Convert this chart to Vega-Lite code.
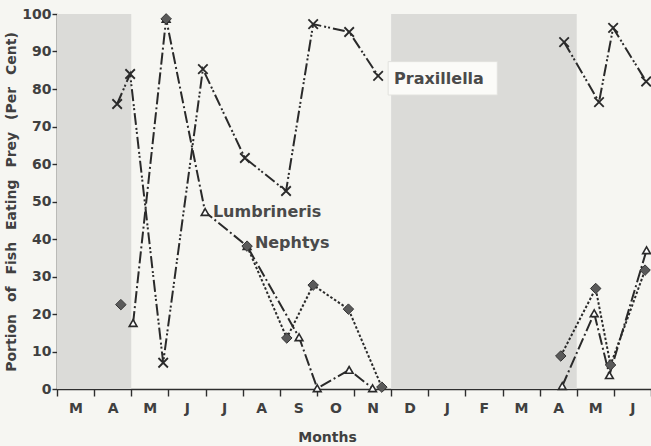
{
  "$schema": "https://vega.github.io/schema/vega-lite/v6.json",
  "width": 594,
  "height": 375,
  "autosize": "none",
  "padding": {"left": 57, "top": 14, "right": 0, "bottom": 57},
  "background": "#f6f6f2",
  "config": {
    "view": {"stroke": null},
    "font": "DejaVu Sans",
    "axis": {
      "domainColor": "#2e2e2e", "domainWidth": 1.6, "tickColor": "#2e2e2e", "tickWidth": 1.4,
      "labelColor": "#404040", "titleColor": "#404040", "labelFontSize": 14, "titleFontSize": 14,
      "labelFontWeight": "bold", "titleFontWeight": "bold",
      "labelFont": "DejaVu Sans", "titleFont": "DejaVu Sans", "grid": false
    }
  },
  "datasets": {
    "shade": [{"month": 0, "month_end": 2, "pct": 0, "pct_end": 100}, {"month": 9, "month_end": 14, "pct": 0, "pct_end": 100}],
    "box": [{"month": 8.92, "month_end": 11.86, "pct": 78.4, "pct_end": 87.3}],
    "obs": [
      {"series": "Praxillella", "seg": "P1", "month": 1.62, "pct": 76},
      {"series": "Praxillella", "seg": "P1", "month": 1.97, "pct": 84},
      {"series": "Praxillella", "seg": "P1", "month": 2.86, "pct": 7},
      {"series": "Praxillella", "seg": "P1", "month": 3.93, "pct": 85.3},
      {"series": "Praxillella", "seg": "P1", "month": 5.06, "pct": 61.6},
      {"series": "Praxillella", "seg": "P1", "month": 6.17, "pct": 52.8},
      {"series": "Praxillella", "seg": "P1", "month": 6.9, "pct": 97.3},
      {"series": "Praxillella", "seg": "P1", "month": 7.87, "pct": 95.2},
      {"series": "Praxillella", "seg": "P1", "month": 8.65, "pct": 83.5},
      {"series": "Praxillella", "seg": "P2", "month": 13.66, "pct": 92.5},
      {"series": "Praxillella", "seg": "P2", "month": 14.6, "pct": 76.5},
      {"series": "Praxillella", "seg": "P2", "month": 14.98, "pct": 96.3},
      {"series": "Praxillella", "seg": "P2", "month": 15.87, "pct": 82},
      {"series": "Lumbrineris", "seg": "L1", "month": 2.05, "pct": 17.6},
      {"series": "Lumbrineris", "seg": "L1", "month": 2.94, "pct": 98.7},
      {"series": "Lumbrineris", "seg": "L1", "month": 3.99, "pct": 47.2},
      {"series": "Lumbrineris", "seg": "L1", "month": 5.12, "pct": 38.1},
      {"series": "Lumbrineris", "seg": "L1", "month": 6.52, "pct": 13.8},
      {"series": "Lumbrineris", "seg": "L1", "month": 7.01, "pct": 0.2},
      {"series": "Lumbrineris", "seg": "L1", "month": 7.87, "pct": 5.1},
      {"series": "Lumbrineris", "seg": "L1", "month": 8.5, "pct": 0.2},
      {"series": "Lumbrineris", "seg": "L2", "month": 13.61, "pct": 0.8},
      {"series": "Lumbrineris", "seg": "L2", "month": 14.47, "pct": 20.2},
      {"series": "Lumbrineris", "seg": "L2", "month": 14.88, "pct": 3.7},
      {"series": "Lumbrineris", "seg": "L2", "month": 15.88, "pct": 37},
      {"series": "Nephtys", "seg": "N1", "month": 1.72, "pct": 22.5},
      {"series": "Nephtys", "seg": "N2", "month": 2.94, "pct": 98.7},
      {"series": "Nephtys", "seg": "N3", "month": 5.12, "pct": 38.1},
      {"series": "Nephtys", "seg": "N3", "month": 6.19, "pct": 13.6},
      {"series": "Nephtys", "seg": "N3", "month": 6.9, "pct": 27.7},
      {"series": "Nephtys", "seg": "N3", "month": 7.85, "pct": 21.3},
      {"series": "Nephtys", "seg": "N3", "month": 8.75, "pct": 0.5},
      {"series": "Nephtys", "seg": "N4", "month": 13.57, "pct": 8.8},
      {"series": "Nephtys", "seg": "N4", "month": 14.51, "pct": 26.8},
      {"series": "Nephtys", "seg": "N4", "month": 14.91, "pct": 6.4},
      {"series": "Nephtys", "seg": "N4", "month": 15.84, "pct": 31.7}
    ],
    "labels": [
      {"text": "Praxillella", "month": 9.08, "pct": 82.6},
      {"text": "Lumbrineris", "month": 4.2, "pct": 47.2},
      {"text": "Nephtys", "month": 5.33, "pct": 38.9}
    ]
  },
  "encoding": {
    "x": {
      "field": "month", "type": "quantitative", "scale": {"domain": [0, 16], "nice": false, "zero": false}, "title": "Months",
      "axis": {
        "values": [0,1,2,3,4,5,6,7,8,9,10,11,12,13,14,15,16],
        "labelExpr": "['M','A','M','J','J','A','S','O','N','D','J','F','M','A','M','J',''][round(datum.value)]",
        "labelOffset": 18.5, "tickSize": 7, "labelPadding": 5, "titlePadding": 15, "titleX": 270,
        "labelFlush": false, "labelOverlap": false, "labelBound": false, "labelSeparation": 0
      }
    },
    "y": {
      "field": "pct", "type": "quantitative", "scale": {"domain": [0, 100], "nice": false},
      "title": "Portion\u2002\u00a0of\u2002\u00a0Fish\u2002\u00a0Eating\u2002\u00a0Prey\u2002\u00a0(Per\u2002\u00a0Cent)",
      "axis": {
        "values": [0,10,20,30,40,50,60,70,80,90,100],
        "labelExpr": "datum.label",
        "tickSize": 5, "labelPadding": 1, "titlePadding": 3, "labelFlush": false, "labelOverlap": false, "labelBound": false, "labelSeparation": 0
      }
    }
  },
  "layer": [
    {
      "data": {"name": "shade"},
      "mark": {"type": "rect", "fill": "#dbdbd8"},
      "encoding": {
        "x2": {"field": "month_end"},
        "y2": {"field": "pct_end"}
      }
    },
    {
      "data": {"name": "box"},
      "mark": {"type": "rect", "fill": "#fbfbf8", "stroke": "#e2e2de", "strokeWidth": 1},
      "encoding": {
        "x2": {"field": "month_end"},
        "y2": {"field": "pct_end"}
      }
    },
    {
      "data": {"name": "obs"},
      "mark": {"type": "line", "color": "#2a2a2a", "strokeWidth": 2},
      "encoding": {
        "detail": {"field": "seg"},
        "strokeDash": {
          "field": "series", "type": "nominal", "legend": null,
          "scale": {"domain": ["Praxillella", "Lumbrineris", "Nephtys"], "range": [[12, 3, 2, 2, 2, 3], [12, 3, 2, 3], [2.5, 2]]}
        }
      }
    },
    {
      "data": {"name": "obs"},
      "transform": [{"filter": "datum.series === 'Praxillella'"}],
      "mark": {"type": "point", "shape": "M-1,-1L1,1M-1,1L1,-1", "filled": false, "stroke": "#2a2a2a", "strokeWidth": 1.8, "size": 90, "opacity": 1}
    },
    {
      "data": {"name": "obs"},
      "transform": [{"filter": "datum.series === 'Lumbrineris'"}],
      "mark": {"type": "point", "shape": "triangle-up", "filled": true, "fill": "#ffffff", "stroke": "#2a2a2a", "strokeWidth": 1.6, "size": 60, "opacity": 1}
    },
    {
      "data": {"name": "obs"},
      "transform": [{"filter": "datum.series === 'Nephtys'"}],
      "mark": {"type": "point", "shape": "diamond", "filled": true, "fill": "#5a5a5a", "stroke": "#333333", "strokeWidth": 1, "size": 110, "opacity": 1}
    },
    {
      "data": {"name": "labels"},
      "mark": {"type": "text", "align": "left", "baseline": "middle", "fontSize": 16, "fontWeight": "bold", "color": "#4a4a4a", "font": "DejaVu Sans"},
      "encoding": {
        "text": {"field": "text"}
      }
    }
  ]
}
